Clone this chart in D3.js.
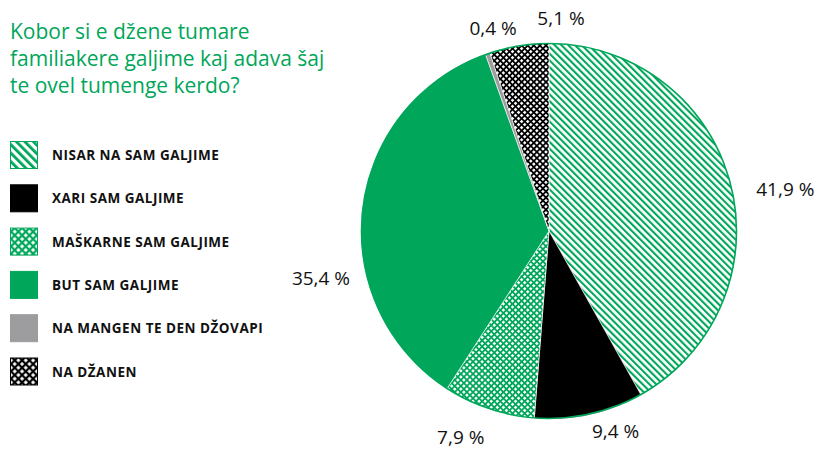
<!DOCTYPE html>
<html>
<head>
<meta charset="utf-8">
<script src="https://cdn.jsdelivr.net/npm/d3@7"></script>
<style>
  html, body { margin: 0; padding: 0; background: #fff; }
  svg { display: block; }
</style>
</head>
<body>
<svg id="chart" width="817" height="449"></svg>
<script>
// Answer categories, in drawing order (clockwise from 12 o'clock)
const categories = [
  "NISAR NA SAM GALJIME",
  "XARI SAM GALJIME",
  "MAŠKARNE SAM GALJIME",
  "BUT SAM GALJIME",
  "NA MANGEN TE DEN DŽOVAPI",
  "NA DŽANEN"
];
// Share of respondents, percent
const values = [41.9, 9.4, 7.9, 35.4, 0.4, 5.1];
// Printed value labels
const valueLabels = ["41,9 %", "9,4 %", "7,9 %", "35,4 %", "0,4 %", "5,1 %"];
const titleLines = [
  "Kobor si e džene tumare",
  "familiakere galjime kaj adava šaj",
  "te ovel tumenge kerdo?"
];

const GREEN = "#00a65a";
const GREY = "#9d9d9f";
const BLACK = "#000";

const svg = d3.select("#chart");
const defs = svg.append("defs");

// Diagonal hatch (white ground, green stripes running top-left to bottom-right)
function hatch(id, gap, width) {
  const p = defs.append("pattern").attr("id", id)
    .attr("patternUnits", "userSpaceOnUse")
    .attr("width", gap).attr("height", gap)
    .attr("patternTransform", "rotate(-45)");
  p.append("rect").attr("width", gap).attr("height", gap).attr("fill", "#fff");
  p.append("rect").attr("x", 0).attr("y", 0).attr("width", width).attr("height", gap).attr("fill", GREEN);
}
// Diamond lattice (coloured grid with white diamond holes)
function lattice(id, color, cell, hole) {
  const p = defs.append("pattern").attr("id", id)
    .attr("patternUnits", "userSpaceOnUse")
    .attr("width", cell).attr("height", cell)
    .attr("patternTransform", "rotate(45)");
  p.append("rect").attr("width", cell).attr("height", cell).attr("fill", color);
  const o = (cell - hole) / 2;
  p.append("rect").attr("x", o).attr("y", o).attr("width", hole).attr("height", hole).attr("fill", "#fff");
}
hatch("hatchPie", 4.8, 2.1);
lattice("latGreenPie", GREEN, 4.3, 2.5);
lattice("latBlackPie", BLACK, 4.3, 2.5);
hatch("hatchKey", 6, 2.8);
lattice("latGreenKey", GREEN, 5.2, 3.0);
lattice("latBlackKey", BLACK, 5.2, 3.0);

const pieFills = ["url(#hatchPie)", BLACK, "url(#latGreenPie)", GREEN, GREY, "url(#latBlackPie)"];
const keyFills = ["url(#hatchKey)", BLACK, "url(#latGreenKey)", GREEN, GREY, "url(#latBlackKey)"];
const keyStroke = [GREEN, BLACK, GREEN, GREEN, GREY, BLACK];

// Title
const title = svg.append("text")
  .attr("fill", GREEN)
  .style("font-family", "'Open Sans', sans-serif")
  .style("font-size", "21px");
titleLines.forEach((t, i) => {
  title.append("tspan").attr("x", 10).attr("y", 39 + i * 27).text(t);
});

// Legend
const keyTop = 141, keyStep = 43.3, keySize = 28;
const key = svg.append("g");
categories.forEach((c, i) => {
  const y = keyTop + i * keyStep;
  key.append("rect")
    .attr("x", 10.5).attr("y", y + 0.5)
    .attr("width", keySize - 1).attr("height", keySize - 1)
    .attr("fill", keyFills[i])
    .attr("stroke", keyStroke[i]).attr("stroke-width", 1);
  key.append("text")
    .attr("x", 52).attr("y", y + 19)
    .attr("fill", "#111")
    .style("font-family", "'Open Sans', sans-serif")
    .style("font-weight", "700")
    .style("font-size", "13.5px")
    .style("letter-spacing", "0.5px")
    .text(c);
});

// Pie
const cx = 549, cy = 231, R = 188;
const pie = d3.pie().sort(null).value(d => d);
const arcs = pie(values);
const arc = d3.arc().innerRadius(0).outerRadius(R);
const g = svg.append("g").attr("transform", `translate(${cx},${cy})`);

g.selectAll("path.slice").data(arcs).join("path")
  .attr("class", "slice")
  .attr("d", arc)
  .attr("fill", (d, i) => pieFills[i])
  .attr("stroke", "#fff")
  .attr("stroke-width", 0.6);

// Green rim round the whole pie
g.append("circle").attr("r", R - 0.5)
  .attr("fill", "none").attr("stroke", GREEN).attr("stroke-width", 1.6);

// Value labels: placed on a ring, nudged per slice (degrees, radius)
const labelNudge = [[4.6, 240], [-6, 211], [4.5, 224], [-18.4, 233], [3.6, 210], [12.4, 213]];
const deg = Math.PI / 180;
const labelAngle = (d, i) => (d.startAngle + d.endAngle) / 2 + labelNudge[i][0] * deg;
g.selectAll("text.val").data(arcs).join("text")
  .attr("class", "val")
  .attr("x", (d, i) => Math.sin(labelAngle(d, i)) * labelNudge[i][1])
  .attr("y", (d, i) => -Math.cos(labelAngle(d, i)) * labelNudge[i][1])
  .attr("dy", "0.35em")
  .attr("text-anchor", "middle")
  .attr("fill", "#111")
  .style("font-family", "'Open Sans', sans-serif")
  .style("font-size", "19px")
  .text((d, i) => valueLabels[i]);
</script>
</body>
</html>
